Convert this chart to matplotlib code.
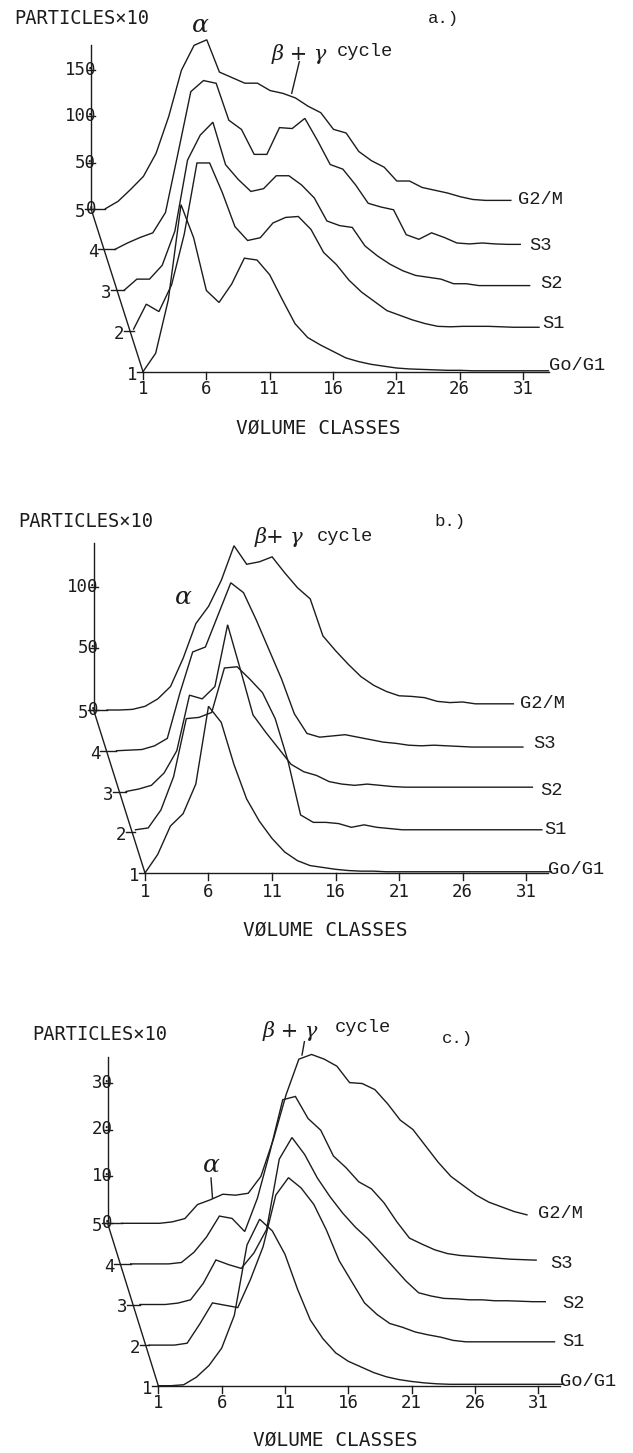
import numpy as np
import matplotlib
matplotlib.use("Agg")
import matplotlib.pyplot as plt

W, H = 633, 1453

# ---------------- data ----------------
classes = np.arange(1, 34)            # volume classes 1..33
series_names = ["Go/G1", "S1", "S2", "S3", "G2/M"]
series_numbers = ["1", "2", "3", "4", "5"]
x_tick_values = [1, 6, 11, 16, 21, 26, 31]

# panel a (particles x10)
a_go = [0, 20, 78, 181, 145, 88, 75, 95, 123, 121, 105, 78, 52, 37, 29, 22, 15, 11, 8, 6,
        4, 3, 2.5, 2, 1.5, 1.5, 1, 1, 1, 1, 1, 1, 1]
a_s1 = [2, 29, 21, 50, 105, 182, 182, 150, 113, 98, 101, 117, 123, 124, 110, 85, 72, 55, 42, 32,
        22, 17, 12, 8, 5, 4.5, 5, 5, 5, 4.5, 4, 4, 4]
a_s2 = [0, 12, 12, 27, 64, 141, 168, 182, 136, 120, 107, 110, 124, 124, 114, 100, 75, 70, 68, 48,
        37, 28, 21, 16, 14, 12, 7, 7, 5, 5, 5, 5, 5]
a_s3 = [0, 7, 13, 18, 40, 105, 171, 183, 180, 140, 130, 103, 103, 132, 131, 142, 118, 92, 87, 70,
        50, 46, 43, 16, 11, 18, 13, 7, 6, 7, 6, 5.5, 5.5]
a_g2m = [0, 8, 21, 35, 60, 100, 150, 177, 183, 148, 142, 136, 136, 128, 125, 120, 111, 104, 86, 82,
         62, 52, 45, 30, 30, 23, 20, 17, 13, 10, 9, 9, 9]

# panel b
b_go = [0, 15, 38, 48, 72, 135, 122, 88, 60, 42, 28, 17, 10, 6, 4.5, 3, 2, 1.5, 1.5, 1,
        1, 1, 1, 1, 1, 1, 1, 1, 1, 1, 1, 1, 1]
b_s1 = [2, 3.5, 18, 45, 92, 93, 97, 133, 134, 124, 113, 92, 58, 14, 8, 8, 7, 4, 6, 4,
        3, 2, 2, 2, 2, 2, 2, 2, 2, 2, 2, 2, 2]
b_s2 = [0, 2, 5, 15, 33, 78, 75, 85, 135, 99, 62, 48, 35, 22, 16, 13, 8, 6, 5, 6,
        5, 4, 3.5, 3.5, 3.5, 3.5, 3.5, 3.5, 3.5, 3.5, 3.5, 3.5, 3.5]
b_s3 = [0, 0.5, 1, 4, 10, 47, 80, 84, 110, 136, 128, 106, 82, 58, 30, 14, 11, 12, 13, 11,
        9, 7, 6, 4.5, 4, 4.5, 4, 3.5, 3, 3, 3, 3, 3]
b_g2m = [0, 0, 0.5, 3, 9, 19, 42, 70, 84, 105, 133, 118, 120, 124, 111, 99, 90, 60, 48, 37,
         27, 20, 15, 11.5, 11, 10, 7, 6, 6.5, 5, 5, 5, 5]

# panel c
c_go = [0, 0, 0.2, 1.8, 4.3, 8, 15, 30, 35.5, 33, 28, 20.5, 14, 10, 7, 5.2, 4, 2.8, 1.9, 1.3,
        0.9, 0.6, 0.4, 0.3, 0.3, 0.3, 0.3, 0.3, 0.3, 0.3, 0.3, 0.3, 0.3]
c_s1 = [0, 0, 0, 0.4, 4.5, 9, 8.5, 8, 14, 21, 32, 35.7, 33.5, 30, 24.5, 18, 13.5, 9, 6.5, 4.6,
        3.8, 2.8, 2.2, 1.7, 1, 0.7, 0.7, 0.7, 0.7, 0.7, 0.7, 0.7, 0.7]
c_s2 = [0, 0, 0, 0.3, 1, 4.5, 9.5, 8.5, 7.7, 11, 16, 31, 35.6, 32, 27, 23, 19.5, 16.5, 14, 11,
        8, 5, 2.5, 1.8, 1.3, 1.2, 1, 1, 0.8, 0.8, 0.7, 0.6, 0.6]
c_s3 = [0, 0, 0, 0, 0.3, 2.5, 5.8, 10.2, 9.7, 6.9, 14, 24, 35, 35.7, 31, 28.5, 23, 20.5, 17.5, 16,
        13, 9, 5.5, 4.2, 3, 2.2, 1.8, 1.6, 1.4, 1.2, 1.0, 0.9, 0.8]
c_g2m = [0, 0, 0, 0, 0.3, 1, 4, 5, 6.2, 6, 6.4, 10, 18, 27.5, 35, 36, 35, 33.5, 30, 29.8,
         28.5, 25.5, 22, 20, 16.5, 13, 10, 8, 6, 4.5, 3.5, 2.5, 1.8]

a_yticks = [0, 50, 100, 150]
b_yticks = [0, 50, 100]
c_yticks = [0, 10, 20, 30]

# ---------------- layout (pixels) ----------------
panels = [
    dict(series=[a_go, a_s1, a_s2, a_s3, a_g2m], yticks=a_yticks, letter="a.)",
         band=(0, 470), origin=(143.0, 371.7), sx=12.67, sy=0.923, shift=9.4, dy=40.75,
         vx=91.0, vtop=45.0, xend=549, ticklab_y=389, vol=(318, 428),
         part=(14, 19), let=(428, 18), alpha=(200, 26), beta=(272, 54), cyc=(337, 52),
         beta_txt="β + γ", leader_b=((299.3, 61.7), (291.7, 93.3)), leader_a=None,
         labs=[(549, 365), (542, 324), (540, 284), (529, 245), (518, 199)]),
    dict(series=[b_go, b_s1, b_s2, b_s3, b_g2m], yticks=b_yticks, letter="b.)",
         band=(470, 960), origin=(145.0, 873.0), sx=12.7, sy=1.235, shift=9.5, dy=40.75,
         vx=93.6, vtop=542.7, xend=548, ticklab_y=891.7, vol=(325, 930),
         part=(18, 521.7), let=(434, 521.7), alpha=(183, 598), beta=(255, 537), cyc=(317, 536.7),
         beta_txt="β+ γ", leader_b=None, leader_a=None,
         labs=[(548, 870), (544, 830), (540, 790.7), (533, 743), (520, 703)]),
    dict(series=[c_go, c_s1, c_s2, c_s3, c_g2m], yticks=c_yticks, letter="c.)",
         band=(960, 1453), origin=(158.3, 1385.7), sx=12.67, sy=4.69, shift=9.2, dy=40.6,
         vx=107.6, vtop=1056.7, xend=560, ticklab_y=1403, vol=(335, 1440),
         part=(32, 1035), let=(442, 1038), alpha=(211, 1165), beta=(263, 1031), cyc=(335, 1028),
         beta_txt="β + γ", leader_b=((304.4, 1041.7), (302.0, 1055.0)),
         leader_a=((211.0, 1178.0), (212.5, 1198.0)),
         labs=[(560, 1382), (562, 1341.7), (562, 1303), (550, 1264), (538, 1214)]),
]

LC = "#1c1c1c"
LW = 1.0
MONO = "DejaVu Sans Mono"
COUR = "Liberation Mono"

fig = plt.figure(figsize=(W / 100, H / 100), dpi=100)
fig.patch.set_facecolor("white")


def fpos(x, y):
    return x / W, 1 - y / H


for p in panels:
    top, bot = p["band"]
    ox, oy = p["origin"]
    sx, sy = p["sx"], p["sy"]
    ax = fig.add_axes([0, 1 - bot / H, 1, (bot - top) / H])
    ax.set_xlim(1 - ox / sx, 1 + (W - ox) / sx)
    ax.set_ylim(-(bot - oy) / sy, (oy - top) / sy)
    ax.axis("off")

    def d(x, y):
        return 1 + (x - ox) / sx, (oy - y) / sy

    dxk = -p["shift"] / sx
    dyk = p["dy"] / sy

    # curves
    for k, vals in enumerate(p["series"]):
        ax.plot(classes + k * dxk, np.asarray(vals, float) + k * dyk,
                color=LC, lw=LW, solid_joinstyle="miter")

    # x axis
    xe = 1 + (p["xend"] - ox) / sx
    ax.plot([1, xe], [0, 0], color=LC, lw=LW)
    for t in x_tick_values:
        ax.plot([t, t], [0, -7 / sy], color=LC, lw=LW)
        ax.text(t, (oy - p["ticklab_y"]) / sy, str(t), ha="center", va="center",
                family=MONO, fontsize=12.5, color=LC)

    # oblique series axis
    xv = 1 + (p["vx"] - ox) / sx
    ytop_s = 4 * dyk
    ax.plot([1, xv], [0, ytop_s], color=LC, lw=LW)
    for k in range(5):
        xa = 1 + k * (xv - 1) / 4
        xs = 1 + k * dxk
        ax.plot([xa - 6 / sx, max(xa, xs)], [k * dyk, k * dyk], color=LC, lw=LW)
        ax.text(xa - 11 / sx, k * dyk - 3 / sy, series_numbers[k], ha="center",
                va="center", family=MONO, fontsize=12.5, color=LC)

    # vertical value axis
    ax.plot([xv, xv], [ytop_s, (oy - p["vtop"]) / sy], color=LC, lw=LW)
    for v in p["yticks"]:
        yy = ytop_s + v
        ax.plot([xv - 4 / sx, xv + 4 / sx], [yy, yy], color=LC, lw=LW)
        ax.text(xv + 5 / sx, yy, str(v), ha="right", va="center",
                family=MONO, fontsize=12.5, color=LC)

    # curve labels
    for name, (lx, ly) in zip(series_names, p["labs"]):
        fig.text(*fpos(lx, ly), name, ha="left", va="center", family=COUR,
                 fontsize=13.5, color=LC)

    # titles / annotations
    fig.text(*fpos(*p["part"]), "PARTICLES×10", ha="left", va="center",
             family=MONO, fontsize=13.5, color=LC)
    fig.text(*fpos(*p["let"]), p["letter"], ha="left", va="center",
             family=COUR, fontsize=12.5, color=LC)
    fig.text(*fpos(*p["vol"]), "VØLUME CLASSES", ha="center", va="center",
             family=MONO, fontsize=14, color=LC)
    fig.text(*fpos(*p["alpha"]), "α", ha="center", va="center",
             family="DejaVu Serif", style="italic", fontsize=18, color=LC)
    fig.text(*fpos(*p["beta"]), p["beta_txt"], ha="left", va="center",
             family="DejaVu Serif", style="italic", fontsize=15, color=LC)
    fig.text(*fpos(*p["cyc"]), "cycle", ha="left", va="center",
             family=COUR, fontsize=13.5, color=LC)
    for ld in (p["leader_b"], p["leader_a"]):
        if ld is not None:
            (x1, y1), (x2, y2) = ld
            p1, p2 = d(x1, y1), d(x2, y2)
            ax.plot([p1[0], p2[0]], [p1[1], p2[1]], color=LC, lw=LW)

fig.savefig("out.png", dpi=100, facecolor="white")
